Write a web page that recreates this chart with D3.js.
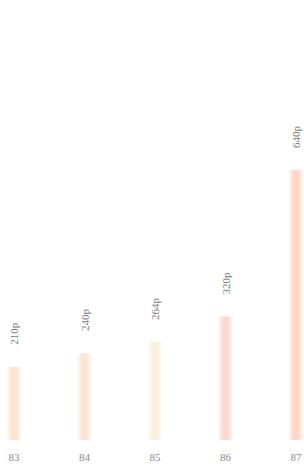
<!DOCTYPE html>
<html>
<head>
<meta charset="utf-8">
<script src="https://cdn.jsdelivr.net/npm/d3@7"></script>
<style>
  body { margin: 0; background: #ffffff; }
  svg { display: block; }
</style>
</head>
<body>
<svg id="chart" width="304" height="474"></svg>
<script>
// chart data
const years = ["83", "84", "85", "86", "87"];
const prices = [210, 240, 264, 320, 640];
const priceLabels = ["210p", "240p", "264p", "320p", "640p"];
const barColours = ["#fde3d0", "#fbe6d2", "#faefdc", "#fdd8cc", "#fdd6c8"];

const svg = d3.select("#chart");
const baseY = 440;

const x = d3.scalePoint()
        .domain(years)
        .range([14, 296]);

// the axis does not start at zero
const y = d3.scaleLinear()
        .domain([50, 640])
        .range([baseY, 170]);

// soft edges on the bars
const defs = svg.append("defs");
years.forEach((yr, i) => {
        const g = defs.append("linearGradient")
                .attr("id", "bar_" + yr)
                .attr("x1", 0).attr("x2", 1)
                .attr("y1", 0).attr("y2", 0);
        g.append("stop").attr("offset", "0%").attr("stop-color", barColours[i]).attr("stop-opacity", 0.2);
        g.append("stop").attr("offset", "35%").attr("stop-color", barColours[i]).attr("stop-opacity", 1);
        g.append("stop").attr("offset", "65%").attr("stop-color", barColours[i]).attr("stop-opacity", 1);
        g.append("stop").attr("offset", "100%").attr("stop-color", barColours[i]).attr("stop-opacity", 0.2);
});

const barW = 14;

svg.selectAll("rect.bar")
        .data(years)
        .enter().append("rect")
        .attr("class", "bar")
        .attr("x", d => x(d) - barW / 2)
        .attr("y", (d, i) => y(prices[i]))
        .attr("width", barW)
        .attr("height", (d, i) => baseY - y(prices[i]))
        .attr("fill", d => "url(#bar_" + d + ")");

// value labels, turned on their side
svg.selectAll("text.val")
        .data(years)
        .enter().append("text")
        .attr("class", "val")
        .attr("transform", (d, i) => "translate(" + (x(d) + 4) + "," + (y(prices[i]) - 22) + ") rotate(-90)")
        .text((d, i) => priceLabels[i])
        .attr("font-family", "Liberation Serif, serif")
        .attr("font-size", "11px")
        .attr("fill", "#7a7a7a");

// year labels along the bottom
svg.selectAll("text.year")
        .data(years)
        .enter().append("text")
        .attr("class", "year")
        .attr("x", d => x(d))
        .attr("y", baseY + 21)
        .attr("text-anchor", "middle")
        .text(d => d)
        .attr("font-family", "Liberation Serif, serif")
        .attr("font-size", "11px")
        .attr("fill", "#8a8a8a");
</script>
</body>
</html>
